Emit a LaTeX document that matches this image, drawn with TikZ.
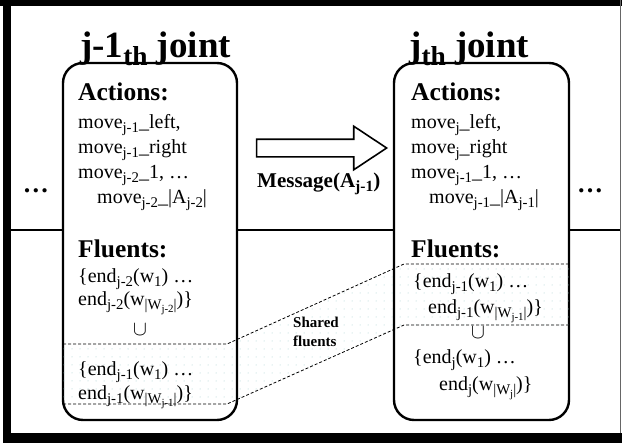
\documentclass[tikz,border=0pt]{standalone}
\usepackage{fontspec}
\setmainfont{Liberation Serif}
\usetikzlibrary{shapes.arrows}
\usetikzlibrary{patterns.meta}
\definecolor{dotcol}{RGB}{160,205,205}
\newcommand{\sbs}[1]{\raisebox{-0.22em}{\scalebox{0.74}{#1}}}

\begin{document}
\begin{tikzpicture}[x=1pt,y=-1pt,
  txt/.style={anchor=base west,inner sep=0pt,font=\fontsize{20}{24}\selectfont},
  secthead/.style={anchor=base west,inner sep=0pt,font=\bfseries\fontsize{25.5}{28}\selectfont},
  jtitle/.style={anchor=base west,inner sep=0pt,font=\bfseries\fontsize{37}{40}\selectfont},
  jointbox/.style={draw,line width=2.4pt,fill=white,rounded corners=20pt,minimum width=174pt,minimum height=357pt,inner sep=0pt},
  shared/.style={line width=0.8pt,dash pattern=on 3pt off 2pt},
  moredots/.style={anchor=base,inner sep=0pt,font=\bfseries\fontsize{26}{30}\selectfont}]
 \useasboundingbox (0,0) rectangle (622,445);
 % frame
 \fill (0,0) rectangle (622,6);
 \fill (3,0) rectangle (11,443);
 \fill (3,433) rectangle (622,443);
 \draw[line width=1.5pt,black!60] (620.5,0) -- (620.5,433);
 \draw[line width=1.5pt] (11,230) -- (620,230);
 % the two joints
 \node[jointbox] (lbox) at (150,241.5) {};
 \node[jointbox,minimum width=175pt] (rbox) at (481.5,241.5) {};
 % shared fluents
 \coordinate (s1) at (63,344);
 \coordinate (s2) at (227,344);
 \coordinate (s3) at (404,264);
 \coordinate (s4) at (569,264);
 \coordinate (s5) at (569,325);
 \coordinate (s6) at (404,325);
 \coordinate (s7) at (227,404);
 \coordinate (s8) at (63,404);
 \fill[pattern={Dots[distance=8pt,radius=0.5pt]},pattern color=dotcol] (s1) -- (s2) -- (s3) -- (s4) -- (s5) -- (s6) -- (s7) -- (s8) -- cycle;
 \draw[shared] (s1) -- (s2) -- (s3) -- (s4);
 \draw[shared] (s8) -- (s7) -- (s6) -- (s5);
 \draw (293,317) node[anchor=north west,inner sep=0pt,align=left,font=\bfseries\fontsize{15}{19}\selectfont] (sharedlbl) {Shared\\fluents};
 % message
 \node[draw,single arrow,line width=1.6pt,inner ysep=8pt,inner xsep=0pt,minimum height=130pt,single arrow head extend=13pt,single arrow tip angle=67] (msg) at (315,148) {};
 \draw (257,187) node[secthead,font=\bfseries\fontsize{21}{24}\selectfont] (msgtxt) {Message(A\sbs{j-1})};
 \draw (36,192) node[moredots] (ldots) {…};
 \draw (590,192) node[moredots] (rdots) {…};
 % j-1 joint
 \draw (80,57) node[jtitle] (ltitle) {j-1\sbs{th} joint};
 \draw (78,100) node[secthead] (lact) {Actions:};
 \draw (78,128) node[txt] (la1) {move\sbs{j-1}\_left,};
 \draw (78,153) node[txt] (la2) {move\sbs{j-1}\_right};
 \draw (78,178) node[txt] (la3) {move\sbs{j-2}\_1, …};
 \draw (97,203) node[txt] (la4) {move\sbs{j-2}\_|A\sbs{j-2}|};
 \draw (78,257) node[secthead] (lflu) {Fluents:};
 \draw (78,282) node[txt] (lf1) {\{end\sbs{j-2}(w\sbs{1}) …};
 \draw (78,305) node[txt] (lf2) {end\sbs{j-2}(w\sbs{|W\sbs{j-2}|})\}};
 \draw (140,330) node[inner sep=0pt,font=\fontsize{20}{24}\selectfont] (lcup) {$\cup$};
 \draw (78,375) node[txt] (lf3) {\{end\sbs{j-1}(w\sbs{1}) …};
 \draw (78,399) node[txt] (lf4) {end\sbs{j-1}(w\sbs{|W\sbs{j-1}|})\}};
 % j joint
 \draw (409,57) node[jtitle] (rtitle) {j\sbs{th} joint};
 \draw (411,100) node[secthead] (ract) {Actions:};
 \draw (411,128) node[txt] (ra1) {move\sbs{j}\_left,};
 \draw (411,153) node[txt] (ra2) {move\sbs{j}\_right};
 \draw (411,178) node[txt] (ra3) {move\sbs{j-1}\_1, …};
 \draw (429,203) node[txt] (ra4) {move\sbs{j-1}\_|A\sbs{j-1}|};
 \draw (411,257) node[secthead] (rflu) {Fluents:};
 \draw (413,287) node[txt] (rf1) {\{end\sbs{j-1}(w\sbs{1}) …};
 \draw (428,313) node[txt] (rf2) {end\sbs{j-1}(w\sbs{|W\sbs{j-1}|})\}};
 \draw (478,333) node[inner sep=0pt,font=\fontsize{20}{24}\selectfont] (rcup) {$\cup$};
 \draw (413,363) node[txt] (rf3) {\{end\sbs{j}(w\sbs{1}) …};
 \draw (439,390) node[txt] (rf4) {end\sbs{j}(w\sbs{|W\sbs{j}|})\}};
\end{tikzpicture}
\end{document}
